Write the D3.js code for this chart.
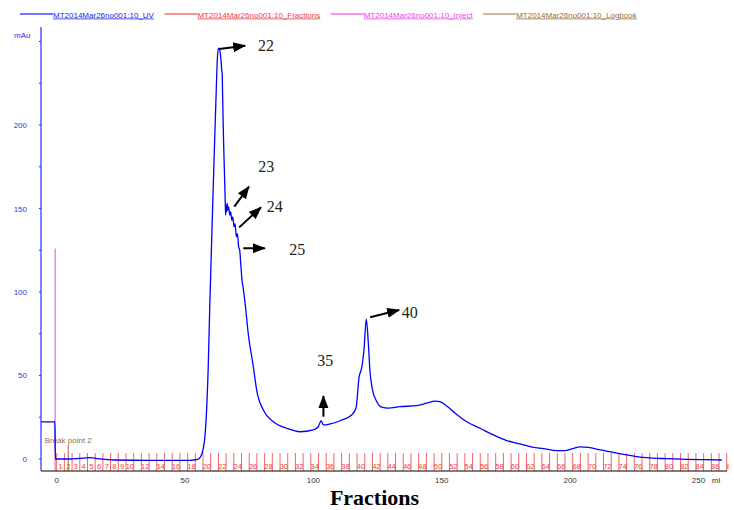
<!DOCTYPE html>
<html><head><meta charset="utf-8">
<script src="https://cdn.jsdelivr.net/npm/d3@7"></script>
<style>body{margin:0;background:#fff}svg{display:block}</style>
</head><body>
<svg id="c" width="734" height="510"></svg>
<script>
// ---- data (ml, mAu) ----
const uvMl  = [-6.1,-0.7,-0.5,5.2,9.1,13.0,16.9,22.7,36.3,51.9,55.0,56.2,57.0,57.8,58.2,59.0,59.7,60.5,61.3,62.1,62.6,63.0,63.4,64.0,64.3,64.5,64.6,65.0,65.6,65.8,66.0,66.2,66.4,66.7,67.0,67.4,67.8,68.2,68.6,69.1,69.5,70.0,70.4,70.9,71.3,71.7,72.2,72.6,73.4,74.6,76.6,77.9,80.5,84.4,89.6,94.8,100.0,101.9,103.0,103.9,106.5,110.4,114.9,116.6,117.8,118.8,119.7,120.6,121.4,122.0,122.9,124.7,126.6,129.2,133.7,140.2,144.1,147.4,149.3,151.9,155.2,159.7,164.9,170.1,175.3,180.5,184.4,189.6,194.8,198.0,200.6,203.9,207.1,211.7,216.8,222.0,225.9,231.1,237.6,245.4,253.2,259.1];
const uvMAu = [22.2,22.2,0,0,0.4,0.8,0,-0.6,-0.8,-0.8,-0.3,1.8,5.4,14.4,23.4,53.3,95.2,137.1,179,218,240,246,245.5,239,233,230,221,191,158,146,152,148,153,149,151,146,148,143,145,139,141,133,135,127,125,117,107,103,93.4,75.4,55.3,41.3,29.3,22.3,18.4,16.3,17.4,19.3,22.9,20.4,21.0,22.9,26.3,30.5,49.1,54.5,65.3,83.7,69.3,53.3,42.3,34.3,31,30.4,31.3,31.9,33.4,34.7,34.3,31.7,27.4,22.3,18.4,14.4,11.0,9.0,7.4,6.2,5.0,5.0,6.0,7.2,7.0,5.4,4.0,2.4,1.4,0.6,0.2,-0.2,-0.4,-0.6];

const fractionCount = 88;     // fractions 1..88
const fractionWidth = 3;      // ml per fraction
const injectMl = -0.6;
const injectMAu = 126;
const logbookMl = 4.5;
const logbookText = "Break point 2";

const xTicks = [0,50,100,150,200,250];
const yTicks = [0,50,100,150,200];
const yMinorTicks = [0,25,50,75,100,125,150,175,200,225,250];

const legendLabels = ["MT2014Mar26no001:10_UV","MT2014Mar26no001:10_Fractions","MT2014Mar26no001:10_Inject","MT2014Mar26no001:10_Logbook"];
const legendColors = ["#2222ee","#f03c3c","#f040f0","#9a6a3a"];
const legendLineColors = ["#4444ff","#f07070","#f070f0","#c0a080"];

// annotations: label, text position (ml,mAu), arrow from (ml,mAu) to (ml,mAu)
const annLabels = ["22","23","24","25","35","40"];
const annText   = [[78.4,244.3],[78.5,172],[81.8,148.1],[90.6,122.2],[101.5,55.7],[134.4,84.3]];
const annFrom   = [[63.3,245.5],[69.2,151.1],[71.1,138.7],[72.7,126.2],[103.9,25.3],[122.1,84.9]];
const annTo     = [[73.4,247.5],[74.9,163.1],[79.6,150.7],[81.1,126.2],[103.9,37.7],[133.4,89.2]];

// ---- drawing ----
const svg = d3.select("#c");
const x = d3.scaleLinear().domain([-6.1, 261.1]).range([41, 727]);
const y = d3.scaleLinear().domain([-7.2, 258.7]).range([471, 27]);
const sans = "'Liberation Sans', Arial, sans-serif";
const serif = "'Liberation Serif', 'Times New Roman', serif";

svg.append("defs").append("clipPath").attr("id","clipFr")
  .append("rect").attr("x",41).attr("y",0).attr("width",688).attr("height",510);

// legend
const lg = svg.append("g");
let lx = 20;
legendLabels.forEach((lab,i)=>{
  lg.append("line").attr("x1",lx).attr("x2",lx+33).attr("y1",14).attr("y2",14)
    .attr("stroke",legendLineColors[i]).attr("stroke-width",1.5);
  const t = lg.append("text").attr("x",lx+33).attr("y",17.5).text(lab)
    .attr("font-family",sans).attr("font-size",8).attr("fill",legendColors[i])
    .style("text-decoration","underline");
  lx += 33 + t.node().getComputedTextLength() + 10.5;
});

// fractions
const fg = svg.append("g").attr("clip-path","url(#clipFr)");
const bounds = d3.range(0, fractionCount).map(i=>i*fractionWidth);
fg.selectAll("line.fr").data(bounds).join("line")
  .attr("x1",d=>x(d)).attr("x2",d=>x(d)).attr("y1",453).attr("y2",471)
  .attr("stroke","#f04040").attr("stroke-opacity",0.8).attr("stroke-width",1);
const frs = d3.range(1, fractionCount+1).filter(n=>n<=10 || n%2===0);
fg.selectAll("text.fr").data(frs).join("text")
  .attr("x",n=>x((n-0.5)*fractionWidth)).attr("y",468.5).attr("text-anchor","middle")
  .attr("font-family",sans).attr("font-size",7.5).attr("fill","#f04040").text(n=>n);

// inject
svg.append("line").attr("x1",x(injectMl)).attr("x2",x(injectMl))
  .attr("y1",y(injectMAu)).attr("y2",471).attr("stroke","#e050d0").attr("stroke-width",1);

// logbook
svg.append("line").attr("x1",x(logbookMl)).attr("x2",x(logbookMl))
  .attr("y1",445).attr("y2",471).attr("stroke","#9a6a3a").attr("stroke-width",1);
svg.append("text").attr("x",x(logbookMl)).attr("y",443).attr("text-anchor","middle")
  .attr("font-family",sans).attr("font-size",8).attr("fill","#9a6a3a").text(logbookText);

// axes
const ax = svg.append("g");
ax.append("line").attr("x1",41).attr("x2",727).attr("y1",471).attr("y2",471)
  .attr("stroke","#000").attr("stroke-width",1.2);
ax.selectAll("text.xt").data(xTicks).join("text")
  .attr("x",d=>x(d)).attr("y",483).attr("text-anchor","middle")
  .attr("font-family",sans).attr("font-size",8).attr("fill","#333").text(d=>d);
ax.append("text").attr("x",716).attr("y",483).attr("text-anchor","middle")
  .attr("font-family",sans).attr("font-size",8).attr("fill","#333").text("ml");

ax.append("line").attr("x1",41).attr("x2",41).attr("y1",27).attr("y2",471)
  .attr("stroke","#5555ff").attr("stroke-width",1.5);
ax.selectAll("line.yt").data(yMinorTicks).join("line")
  .attr("x1",39).attr("x2",41).attr("y1",d=>y(d)).attr("y2",d=>y(d))
  .attr("stroke","#3333ee").attr("stroke-width",1);
ax.selectAll("text.yt").data(yTicks).join("text")
  .attr("x",27).attr("y",d=>y(d)+3).attr("text-anchor","end")
  .attr("font-family",sans).attr("font-size",8).attr("fill","#3333ee").text(d=>d);
ax.append("text").attr("x",14).attr("y",38).attr("font-family",sans).attr("font-size",8)
  .attr("fill","#3333ee").text("mAu");

// UV curve
const pts = uvMl.map((m,i)=>[m,uvMAu[i]]);
svg.append("path").datum(pts)
  .attr("d", d3.line().curve(d3.curveMonotoneX).x(d=>x(d[0])).y(d=>y(d[1])))
  .attr("fill","none").attr("stroke","#0000ff").attr("stroke-width",1.3).attr("stroke-linejoin","round");

// annotations
svg.select("defs").append("marker").attr("id","ah").attr("markerUnits","userSpaceOnUse")
  .attr("markerWidth",14).attr("markerHeight",12).attr("refX",12).attr("refY",5)
  .attr("orient","auto").attr("viewBox","0 0 14 10")
  .append("path").attr("d","M0,0 L13,5 L0,10 Z").attr("fill","#000");
annLabels.forEach((lab,i)=>{
  svg.append("line").attr("x1",x(annFrom[i][0])).attr("y1",y(annFrom[i][1]))
    .attr("x2",x(annTo[i][0])).attr("y2",y(annTo[i][1]))
    .attr("stroke","#000").attr("stroke-width",2).attr("marker-end","url(#ah)");
  svg.append("text").attr("x",x(annText[i][0])).attr("y",y(annText[i][1]))
    .attr("font-family",serif).attr("font-size",16).attr("fill","#222").text(lab);
});

// title
svg.append("text").attr("x",374.5).attr("y",505).attr("text-anchor","middle")
  .attr("font-family",serif).attr("font-weight","bold").attr("font-size",22)
  .attr("fill","#000").text("Fractions");
</script>
</body></html>
